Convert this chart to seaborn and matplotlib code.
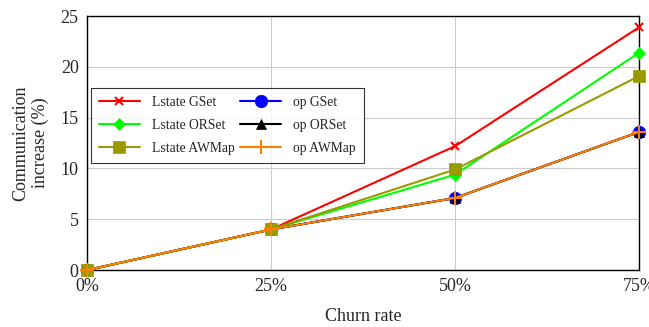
import numpy             as np
import pandas            as pd
import matplotlib.pyplot as plt
import seaborn           as sns

churn = [0, 25, 50, 75]
lstate_gset  = [0, 4.0, 12.2, 23.9]
lstate_orset = [0, 4.0, 9.4, 21.4]
lstate_awmap = [0, 4.0, 9.9, 19.1]
op_gset      = [0, 4.0, 7.1, 13.6]
op_orset     = [0, 4.0, 7.1, 13.6]
op_awmap     = [0, 4.0, 7.1, 13.6]

# drawing order (row-wise legend order of the original)
series = {'Lstate GSet': lstate_gset, 'op GSet': op_gset,
          'Lstate ORSet': lstate_orset, 'op ORSet': op_orset,
          'Lstate AWMap': lstate_awmap, 'op AWMap': op_awmap}
styles = {'Lstate GSet':  ('#ff0000', 'x', 6),
          'Lstate ORSet': ('#00ff00', 'D', 6),
          'Lstate AWMap': ('#999900', 's', 9),
          'op GSet':      ('#0000ff', 'o', 9),
          'op ORSet':     ('#000000', '^', 7),
          'op AWMap':     ('#ff8000', '+', 10)}

df = pd.DataFrame([(name, x, y) for name, vals in series.items() for x, y in zip(churn, vals)],
                  columns = ['series', 'churn', 'value'])

sns.set_style('white')
plt.rcParams['font.family'] = ['Liberation Serif', 'DejaVu Serif']

fig, ax = plt.subplots(figsize = (6.49, 3.27), dpi = 100)

for name in series:
    color, marker, size = styles[name]
    sns.lineplot(data = df[df.series == name], x = 'churn', y = 'value', ax = ax,
                 color = color, marker = marker, markersize = size, linewidth = 1.5,
                 markeredgecolor = color, markeredgewidth = 1.5 if marker in 'x+' else 0.5,
                 label = name, clip_on = False, zorder = 3)

ax.set_xlim(0, 75)
ax.set_ylim(0, 25)
ax.set_xticks(churn)
ax.set_xticklabels([f'{c}%' for c in churn])
ax.set_yticks(np.arange(0, 26, 5))
ax.grid(True, color = '#cccccc', linewidth = 0.8)
ax.tick_params(axis = 'y', length = 0, labelsize = 13, pad = 6)
ax.tick_params(axis = 'x', length = 0, labelsize = 13, pad = 6)
for s in ax.spines.values():
    s.set_color('black')
    s.set_linewidth(1.0)

ax.set_xlabel('Churn rate', fontsize = 13, labelpad = 9)
ax.set_ylabel('Communication\nincrease (%)', fontsize = 13, labelpad = 8)

# matplotlib fills legend columns first, so reorder to match the row-wise layout
handles, labels = ax.get_legend_handles_labels()
order = [0, 2, 4, 1, 3, 5]
leg = ax.legend([handles[i] for i in order], [labels[i] for i in order], ncol = 2,
                loc = 'upper left', bbox_to_anchor = (0.007, 0.717), borderaxespad = 0,
                fontsize = 9.8, frameon = True, fancybox = False, handlelength = 3.0,
                columnspacing = 0.4, handletextpad = 0.9, borderpad = 0.6, labelspacing = 0.72)
leg.get_frame().set_edgecolor('black')
leg.get_frame().set_linewidth(0.8)

plt.subplots_adjust(left = 0.134, right = 0.985, top = 0.951, bottom = 0.174)
plt.savefig('out.png')
